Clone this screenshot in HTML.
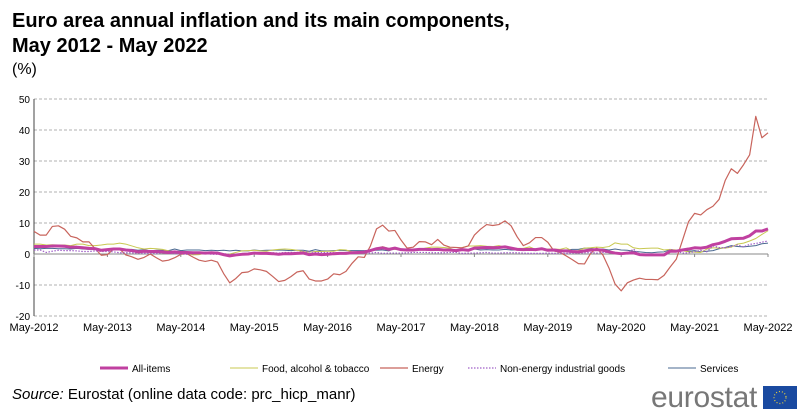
<!DOCTYPE html>
<html><head><meta charset="utf-8">
<style>
body{margin:0;background:#fff;width:808px;height:420px;overflow:hidden;font-family:"Liberation Sans",sans-serif}
.t{position:absolute;left:12px;font-weight:bold;font-size:20px;color:#000}
</style></head><body>
<div class="t" style="top:9px;line-height:25px">Euro area annual inflation and its main components,<br>May 2012 - May 2022</div>
<div style="position:absolute;left:12px;top:61px;font-size:16px">(%)</div>
<svg id="c" width="808" height="420" style="position:absolute;left:0;top:0"></svg>
<div style="position:absolute;left:12px;top:386px;font-size:15px"><i>Source:</i> Eurostat (online data code: prc_hicp_manr)</div>
<div style="position:absolute;left:651px;top:381px;font-size:30px;color:#777;letter-spacing:-0.3px">eurostat</div>
<svg style="position:absolute;left:763px;top:386px" width="34" height="23"><rect width="34" height="23" fill="#1a4aa0"/><circle cx="17" cy="11.5" r="6" fill="none" stroke="#e8d040" stroke-width="1.2" stroke-dasharray="1 2"/></svg>
<script>
const tickLabels=["May-2012","May-2013","May-2014","May-2015","May-2016","May-2017","May-2018","May-2019","May-2020","May-2021","May-2022"];
const yTicks=[-20,-10,0,10,20,30,40,50];
const energy=[7.3,6.1,6.1,8.9,9.1,8.0,5.7,5.2,3.9,3.9,1.7,-0.4,-0.2,1.6,1.6,-0.3,-0.9,-1.7,-1.1,0.0,-1.2,-2.3,-2.0,-1.2,-0.1,0.1,-1.0,-2.0,-2.4,-2.0,-2.6,-6.3,-9.3,-7.9,-6.0,-5.8,-4.8,-5.1,-5.6,-7.2,-8.9,-8.5,-7.3,-5.8,-5.4,-8.1,-8.7,-8.7,-8.1,-6.4,-6.7,-5.6,-3.0,-0.9,-1.1,2.6,8.1,9.3,7.4,7.6,4.5,1.9,2.2,4.0,3.9,3.0,4.7,2.9,2.2,2.1,2.0,2.6,6.1,8.0,9.5,9.2,9.5,10.7,9.1,5.5,2.7,3.6,5.3,5.3,3.8,1.0,0.5,-0.6,-1.8,-3.1,-3.2,0.2,1.9,-0.3,-4.5,-9.7,-11.9,-9.3,-8.4,-7.8,-8.2,-8.2,-8.3,-6.9,-4.2,-1.7,4.3,10.4,13.1,12.6,14.3,15.4,17.6,23.7,27.5,26.0,28.8,32.0,44.4,37.5,39.1];
const allItems=[2.4,2.4,2.4,2.6,2.6,2.5,2.2,2.2,2.0,1.8,1.7,1.2,1.4,1.6,1.6,1.3,1.1,0.7,0.9,0.8,0.8,0.7,0.5,0.7,0.5,0.5,0.4,0.4,0.3,0.4,0.3,-0.2,-0.6,-0.3,-0.1,0.0,0.3,0.2,0.2,0.1,-0.1,0.1,0.1,0.2,0.3,-0.2,0.0,-0.2,-0.1,0.1,0.2,0.2,0.4,0.5,0.6,1.1,1.7,2.0,1.5,1.9,1.4,1.3,1.3,1.5,1.5,1.4,1.5,1.3,1.3,1.1,1.4,1.2,1.9,2.0,2.1,2.0,2.1,2.3,1.9,1.5,1.4,1.5,1.4,1.7,1.2,1.3,1.0,1.0,0.8,0.7,1.0,1.3,1.4,1.2,0.7,0.3,0.1,0.3,0.4,-0.2,-0.3,-0.3,-0.3,-0.3,0.9,0.9,1.3,1.6,2.0,1.9,2.2,3.0,3.4,4.1,4.9,5.0,5.1,5.9,7.4,7.4,8.1];
const food=[3.2,3.2,2.9,3.0,2.9,2.9,2.7,3.2,3.2,2.7,2.7,2.9,3.2,3.2,3.5,3.2,2.6,2.0,1.6,1.8,1.7,1.5,1.0,0.7,0.1,0.2,-0.3,-0.2,0.3,0.5,0.5,0.0,0.0,0.5,1.0,1.1,1.2,1.0,0.9,1.3,1.5,1.6,1.5,1.2,0.8,0.6,0.8,0.8,0.9,0.9,1.4,1.3,0.7,0.5,0.7,1.2,1.8,2.4,1.8,1.5,1.5,1.3,1.4,1.4,1.9,2.2,2.2,2.1,1.9,1.0,2.1,2.6,2.6,2.7,2.5,2.4,2.7,2.2,1.9,1.8,1.8,2.3,1.5,1.5,1.6,1.6,1.5,2.0,1.0,1.1,1.9,2.0,2.2,2.1,2.4,3.6,3.2,3.2,2.0,1.7,1.8,1.9,1.9,1.3,1.5,1.3,1.1,0.7,0.6,0.5,1.6,2.0,1.9,1.9,2.2,3.2,3.5,4.2,5.0,6.3,7.5];
const neig=[1.3,1.3,0.5,0.9,1.2,1.1,1.1,1.0,0.8,0.8,1.0,0.8,0.8,0.7,0.4,0.4,0.4,0.3,0.2,0.3,0.2,0.4,0.2,0.1,0.0,-0.1,0.0,0.3,0.2,-0.1,-0.1,0.1,-0.1,-0.1,-0.1,0.0,0.2,0.2,0.4,0.4,0.3,0.5,0.5,0.5,0.7,0.7,0.5,0.5,0.5,0.4,0.4,0.3,0.3,0.3,0.3,0.3,0.5,0.2,0.3,0.3,0.3,0.4,0.5,0.5,0.5,0.4,0.4,0.4,0.5,0.5,0.2,0.3,0.3,0.4,0.5,0.3,0.3,0.4,0.4,0.4,0.3,0.2,0.2,0.2,0.3,0.2,0.3,0.2,0.3,0.3,0.4,0.5,0.3,0.5,0.5,0.3,0.2,0.2,1.6,-0.1,-0.1,-0.1,-0.3,-0.5,1.5,1.0,0.3,0.4,0.7,1.2,0.7,2.6,2.1,2.0,2.4,2.9,2.3,3.1,3.4,3.8,4.2];
const services=[1.8,1.7,1.8,1.8,1.7,1.7,1.6,1.8,1.6,1.5,1.8,1.1,1.5,1.4,1.4,1.5,1.5,1.2,1.4,1.0,1.2,1.2,1.1,1.6,1.1,1.3,1.3,1.3,1.1,1.2,1.1,1.2,1.0,1.2,1.0,1.0,1.3,1.1,1.2,1.2,1.3,1.2,1.1,1.2,1.2,0.9,1.4,1.0,1.0,1.1,1.2,1.1,1.1,1.1,1.1,1.2,1.2,1.3,1.0,1.8,1.3,1.6,1.6,1.6,1.5,1.2,1.5,1.2,1.3,1.2,1.5,1.0,1.6,1.3,1.4,1.3,1.3,1.5,1.3,1.3,1.2,1.4,1.1,1.9,1.0,1.6,1.2,1.3,1.5,1.5,1.9,1.8,1.5,1.6,1.3,1.6,1.3,1.2,0.9,0.7,0.5,0.4,0.6,0.7,1.4,1.1,1.3,0.9,1.1,0.7,0.9,1.1,1.7,2.1,2.7,2.4,2.3,2.5,2.7,3.3,3.5];

const NS="http://www.w3.org/2000/svg",svg=document.getElementById('c');
const x0=34,x1=768,months=120;
const X=m=>x0+m*(x1-x0)/months;
const Y=v=>254-v*3.1;
function mk(t,a){const e=document.createElementNS(NS,t);for(const k in a)e.setAttribute(k,a[k]);svg.appendChild(e);return e;}
yTicks.forEach(v=>{
  if(v!==0){const g=mk('line',{x1:x0,x2:x1,y1:Y(v),y2:Y(v),stroke:'#b0b0b0','stroke-dasharray':'3 2','stroke-width':1});
  
  }
  const t=mk('text',{x:x0-4,y:Y(v)+4,'text-anchor':'end','font-size':10,fill:'#000'});t.textContent=v;
  
  
});
const ax=mk('line',{x1:x0,x2:x0,y1:Y(50),y2:Y(-20),stroke:'#444'});


const zx=mk('line',{x1:x0,x2:x1,y1:Y(0),y2:Y(0),stroke:'#888'});


tickLabels.forEach((l,i)=>{
  const tk=mk('line',{x1:X(i*12),x2:X(i*12),y1:Y(0),y2:Y(0)+3,stroke:'#888'});
  
  
  const t=mk('text',{x:X(i*12),y:331,'text-anchor':'middle','font-size':11,fill:'#000'});t.textContent=l;
  
  
});
function line(arr,col,w,dash,name){
  const p=mk('polyline',{points:arr.map((v,i)=>X(i)+','+Y(v)).join(' '),fill:'none',stroke:col,'stroke-width':w,'stroke-linejoin':'round'});
  if(dash)p.setAttribute('stroke-dasharray',dash);
  
  
}
line(services,'#4a6890',1,null,'services-line');
line(food,'#c8c850',1,null,'food-line');
line(energy,'#c8645c',1.2,null,'energy-line');
line(neig,'#a060c8',1.2,'1.5 1.5','neig-line');
line(allItems,'#c040a0',3,null,'all-items-line');
const leg=[["All-items",'#c040a0',3,null,100],["Food, alcohol & tobacco",'#c8c850',1,null,230],["Energy",'#c8645c',1.2,null,380],["Non-energy industrial goods",'#a060c8',1.2,'1.5 1.5',468],["Services",'#4a6890',1,null,668]];
leg.forEach(([n,c,w,d,lx])=>{
  const l=mk('line',{x1:lx,x2:lx+28,y1:368,y2:368,stroke:c,'stroke-width':w});
  if(d)l.setAttribute('stroke-dasharray',d);
  
  
  const t=mk('text',{x:lx+32,y:372,'font-size':10,fill:'#000'});t.textContent=n;
  
  
});
</script>
</body></html>
